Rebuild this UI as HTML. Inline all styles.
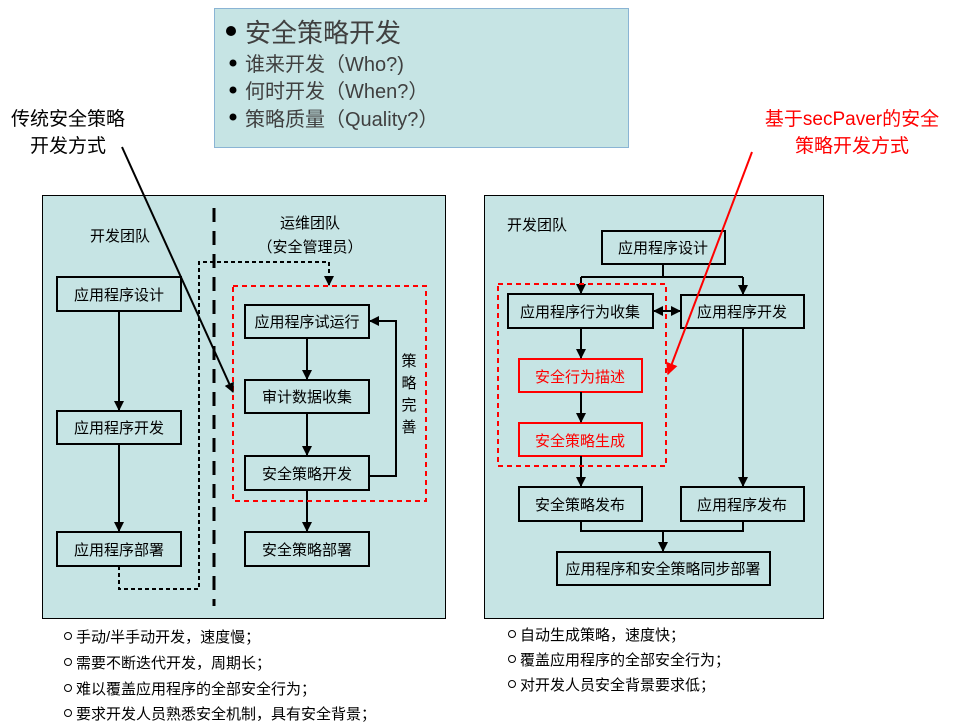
<!DOCTYPE html>
<html><head><meta charset="utf-8"><style>
body{margin:0;background:#fff;}
svg{display:block;font-family:"Liberation Sans","Noto Sans CJK SC",sans-serif;}
</style></head><body>
<svg width="953" height="724" viewBox="0 0 953 724" xmlns="http://www.w3.org/2000/svg">
<defs>
<marker id="a" viewBox="0 0 10 10" refX="9" refY="5" markerWidth="5" markerHeight="5" orient="auto-start-reverse"><path d="M0,0L10,5L0,10z" fill="#000"/></marker>
<marker id="r" viewBox="0 0 10 10" refX="9" refY="5" markerWidth="6" markerHeight="6" orient="auto"><path d="M0,0L10,5L0,10z" fill="#f00"/></marker>
</defs>
<!-- top box -->
<rect x="214.5" y="8.5" width="414" height="139" fill="#c6e4e4" stroke="#8ab4d4"/>
<g fill="#404040">
<circle cx="231" cy="31" r="5" fill="#000"/>
<text x="245" y="42" font-size="26">安全策略开发</text>
<circle cx="233" cy="63" r="3.5" fill="#000"/>
<text x="245" y="71" font-size="20">谁来开发（Who?)</text>
<circle cx="233" cy="90" r="3.5" fill="#000"/>
<text x="245" y="98" font-size="20">何时开发（When?）</text>
<circle cx="233" cy="117" r="3.5" fill="#000"/>
<text x="245" y="126" font-size="20">策略质量（Quality?）</text>
</g>
<text x="68" y="125" font-size="19" text-anchor="middle">传统安全策略</text>
<text x="68" y="152" font-size="19" text-anchor="middle">开发方式</text>
<text x="852" y="125" font-size="19" text-anchor="middle" fill="#f00">基于secPaver的安全</text>
<text x="852" y="152" font-size="19" text-anchor="middle" fill="#f00">策略开发方式</text>

<!-- left panel -->
<rect x="42.5" y="195.5" width="403" height="423" fill="#c6e4e4" stroke="#000"/>
<line x1="214" y1="208" x2="214" y2="606" stroke="#000" stroke-width="3" stroke-dasharray="14,9"/>
<text x="120" y="241" font-size="15" text-anchor="middle">开发团队</text>
<text x="310" y="228" font-size="15" text-anchor="middle">运维团队</text>
<text x="310" y="252" font-size="15" text-anchor="middle">（安全管理员）</text>
<g fill="#c6e4e4" stroke="#000" stroke-width="2">
<rect x="57" y="277" width="124" height="34"/><rect x="57" y="411" width="124" height="33"/><rect x="57" y="532" width="124" height="34"/>
<rect x="245" y="305" width="124" height="33"/><rect x="245" y="380" width="124" height="33"/><rect x="245" y="456" width="124" height="34"/><rect x="245" y="532" width="124" height="34"/>
</g>
<g font-size="15" text-anchor="middle">
<text x="119" y="300">应用程序设计</text><text x="119" y="433">应用程序开发</text><text x="119" y="555">应用程序部署</text>
<text x="307" y="327">应用程序试运行</text><text x="307" y="402">审计数据收集</text><text x="307" y="479">安全策略开发</text><text x="307" y="555">安全策略部署</text>
</g>
<g stroke="#000" stroke-width="2" fill="none" marker-end="url(#a)">
<line x1="119" y1="311" x2="119" y2="410"/><line x1="119" y1="444" x2="119" y2="531"/>
<line x1="307" y1="338" x2="307" y2="379"/><line x1="307" y1="413" x2="307" y2="455"/><line x1="307" y1="490" x2="307" y2="531"/>
<polyline points="369,476 396,476 396,321 370,321"/>
</g>
<polyline points="119,566 119,589 199,589 199,262 329,262 329,285" fill="none" stroke="#000" stroke-width="2" stroke-dasharray="4,3" marker-end="url(#a)"/>
<rect x="233" y="286" width="193" height="215" fill="none" stroke="#f00" stroke-width="2" stroke-dasharray="5,4"/>
<g font-size="15" text-anchor="middle"><text x="409" y="366">策</text><text x="409" y="388">略</text><text x="409" y="410">完</text><text x="409" y="432">善</text></g>

<!-- right panel -->
<rect x="484.5" y="195.5" width="339" height="423" fill="#c6e4e4" stroke="#000"/>
<text x="537" y="230" font-size="15" text-anchor="middle">开发团队</text>
<g fill="#c6e4e4" stroke="#000" stroke-width="2">
<rect x="602" y="231" width="123" height="33"/><rect x="508" y="294" width="145" height="34"/><rect x="681" y="295" width="123" height="33"/>
<rect x="519" y="487" width="123" height="34"/><rect x="681" y="487" width="123" height="34"/><rect x="557" y="552" width="213" height="33"/>
</g>
<g fill="#c6e4e4" stroke="#f00" stroke-width="2"><rect x="519" y="359" width="123" height="33"/><rect x="519" y="423" width="123" height="33"/></g>
<g font-size="15" text-anchor="middle">
<text x="663" y="253">应用程序设计</text><text x="580" y="317">应用程序行为收集</text><text x="742" y="317">应用程序开发</text>
<text x="580" y="510">安全策略发布</text><text x="742" y="510">应用程序发布</text><text x="663" y="574">应用程序和安全策略同步部署</text>
<text x="580" y="382" fill="#f00">安全行为描述</text><text x="580" y="446" fill="#f00">安全策略生成</text>
</g>
<g stroke="#000" stroke-width="2" fill="none">
<polyline points="663,264 663,277"/><line x1="581" y1="277" x2="743" y2="277"/>
<line x1="581" y1="277" x2="581" y2="293" marker-end="url(#a)"/><line x1="743" y1="277" x2="743" y2="294" marker-end="url(#a)"/>
<line x1="654" y1="311" x2="680" y2="311" marker-end="url(#a)" marker-start="url(#a)"/>
<line x1="581" y1="328" x2="581" y2="358" marker-end="url(#a)"/><line x1="581" y1="392" x2="581" y2="422" marker-end="url(#a)"/>
<line x1="581" y1="456" x2="581" y2="486" marker-end="url(#a)"/><line x1="743" y1="328" x2="743" y2="486" marker-end="url(#a)"/>
<polyline points="581,521 581,531 743,531 743,521"/><line x1="663" y1="531" x2="663" y2="551" marker-end="url(#a)"/>
</g>
<rect x="498" y="284" width="168" height="182" fill="none" stroke="#f00" stroke-width="2" stroke-dasharray="5,4"/>

<!-- pointer arrows -->
<line x1="122" y1="147" x2="233" y2="392" stroke="#000" stroke-width="2" marker-end="url(#a)"/>
<line x1="752" y1="152" x2="668" y2="374" stroke="#f00" stroke-width="2" marker-end="url(#r)"/>

<!-- bullets -->
<g font-size="15" fill="#000">
<g fill="none" stroke="#000"><circle cx="68" cy="636" r="3.5"/><circle cx="68" cy="662" r="3.5"/><circle cx="68" cy="688" r="3.5"/><circle cx="68" cy="713" r="3.5"/>
<circle cx="512" cy="634" r="3.5"/><circle cx="512" cy="659" r="3.5"/><circle cx="512" cy="684" r="3.5"/></g>
<text x="76" y="642">手动/半手动开发，速度慢；</text>
<text x="76" y="668">需要不断迭代开发，周期长；</text>
<text x="76" y="694">难以覆盖应用程序的全部安全行为；</text>
<text x="76" y="719">要求开发人员熟悉安全机制，具有安全背景；</text>
<text x="520" y="640">自动生成策略，速度快；</text>
<text x="520" y="665">覆盖应用程序的全部安全行为；</text>
<text x="520" y="690">对开发人员安全背景要求低；</text>
</g>
</svg>
</body></html>
